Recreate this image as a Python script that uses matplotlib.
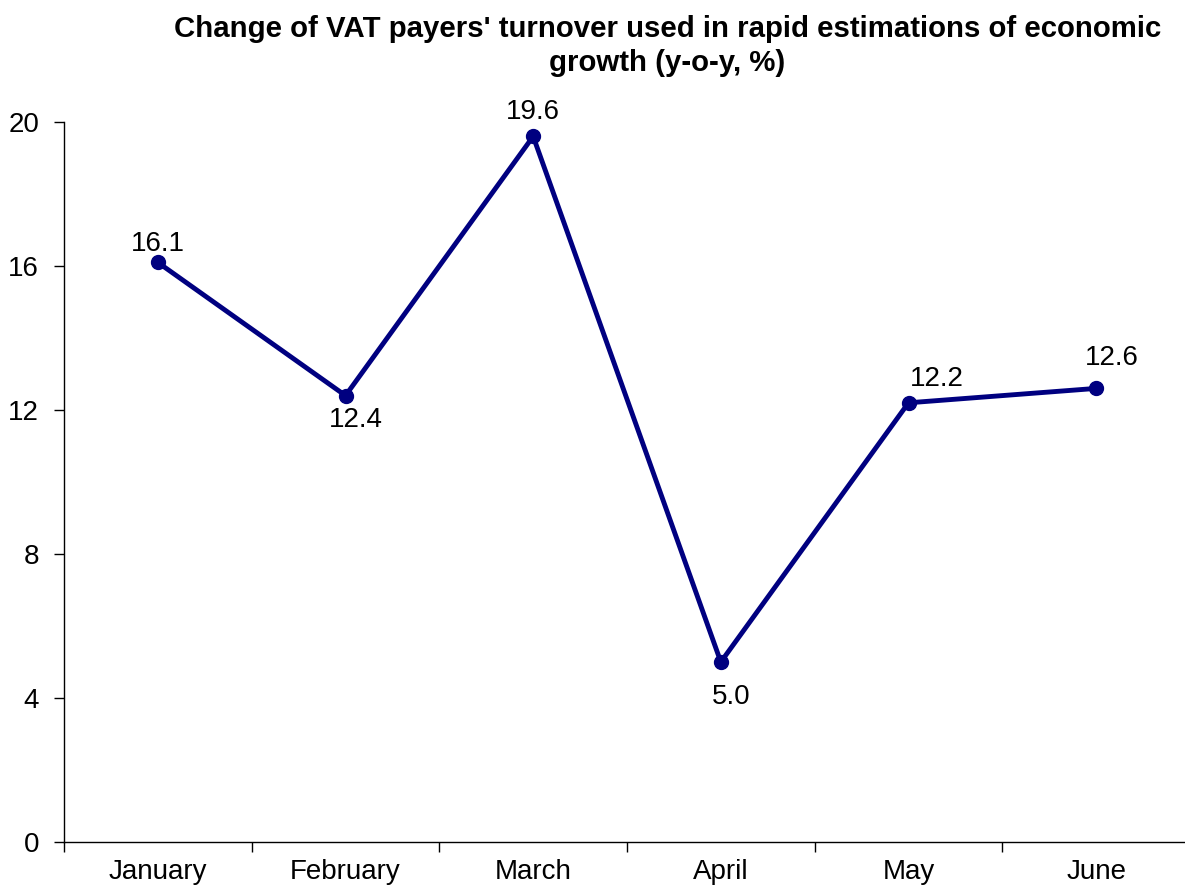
import matplotlib.pyplot as plt
from matplotlib.ticker import FixedLocator

plt.rcParams['font.family'] = ['Liberation Sans', 'DejaVu Sans']

months = ["January", "February", "March", "April", "May", "June"]
values = [16.1, 12.4, 19.6, 5.0, 12.2, 12.6]
# label offsets in pixels (dx, dy) from each point
label_offsets = [(0, 18), (10, -24), (0, 24), (10, -35), (28, 24), (16, 30)]

fig = plt.figure(figsize=(11.85, 8.88), dpi=100)
ax = fig.add_axes([64 / 1185, 46 / 888, 1126 / 1185, 720 / 888])

x = list(range(len(months)))
ax.plot(x, values, color="#000080", linewidth=3.5, marker="o", markersize=10,
        clip_on=False)

for xi, v, (dx, dy) in zip(x, values, label_offsets):
    ax.annotate(f"{v:.1f}", (xi, v), xytext=(dx, dy), textcoords="offset pixels",
                ha="center", va="center", fontsize=20)

ax.set_xlim(-0.5, 5.5)
ax.set_ylim(0, 20)
ax.set_yticks([0, 4, 8, 12, 16, 20])
ax.set_xticks(x)
ax.set_xticklabels(months)
ax.xaxis.set_minor_locator(FixedLocator([i - 0.5 for i in range(len(months) + 1)]))
ax.tick_params(axis="x", which="major", length=0, labelsize=20, pad=12)
ax.tick_params(axis="x", which="minor", length=7, width=1, direction="out")
ax.tick_params(axis="y", length=7, width=1, direction="out", labelsize=20, pad=11)

for s in ["top", "right"]:
    ax.spines[s].set_visible(False)
for s in ["left", "bottom"]:
    ax.spines[s].set_linewidth(1)

fig.text(0.563, 0.948, "Change of VAT payers' turnover used in rapid estimations of economic\ngrowth (y-o-y, %)",
         ha="center", va="center", fontsize=21.2, fontweight="bold", linespacing=1.3)

fig.savefig("out.png", dpi=100)
